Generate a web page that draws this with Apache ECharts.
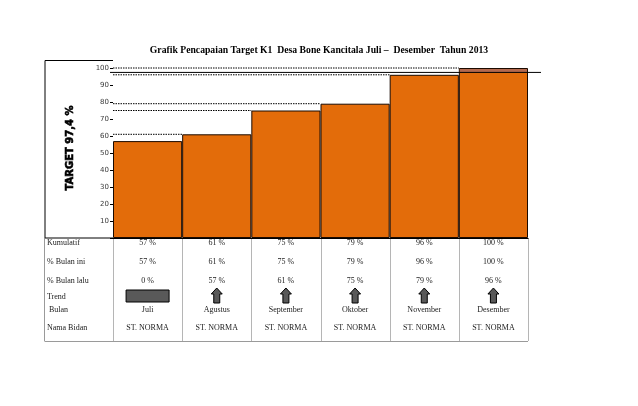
<!DOCTYPE html>
<html>
<head>
<meta charset="utf-8">
<script src="https://cdn.jsdelivr.net/npm/echarts@6/dist/echarts.min.js"></script>
<style>
  html, body { margin: 0; padding: 0; background: #fff; }
  #chart_0 { width: 638px; height: 406px; }
</style>
</head>
<body>
<div id="chart_0"></div>
<script>
// data
var bulan = ['Juli', 'Agustus', 'September', 'Oktober', 'November', 'Desember'];
var kumulatif = [57, 61, 75, 79, 96, 100];
var bulanIni = [57, 61, 75, 79, 96, 100];
var bulanLalu = [0, 57, 61, 75, 79, 96];
var trend = ['flat', 'up', 'up', 'up', 'up', 'up'];
var namaBidan = ['ST. NORMA', 'ST. NORMA', 'ST. NORMA', 'ST. NORMA', 'ST. NORMA', 'ST. NORMA'];
var rowLabels = ['Kumulatif', '% Bulan ini', '% Bulan lalu', 'Trend', ' Bulan', 'Nama Bidan'];
var target = 97.4;
var targetText = 'TARGET 97,4 %';

var chart = echarts.init(document.getElementById('chart_0'));

var serif = 'Liberation Serif';

var option = {
  animation: false,
  title: {
    text: 'Grafik Pencapaian Target K1  Desa Bone Kancitala Juli \u2013  Desember  Tahun 2013',
    left: 'center',
    top: 40,
    textStyle: { fontFamily: serif, fontSize: 9.7, fontWeight: 'bold', color: '#000' }
  },
  grid: { left: 113, right: 110, top: 68, bottom: 168, containLabel: false },
  xAxis: {
    type: 'category',
    data: bulan,
    boundaryGap: true,
    axisLine: { show: true, lineStyle: { color: '#000', width: 1 } },
    axisTick: { show: false },
    axisLabel: { show: false }
  },
  yAxis: {
    type: 'value',
    min: 0,
    max: 100,
    interval: 10,
    splitLine: { show: false },
    axisLine: { show: false },
    axisTick: { show: true, length: 3, lineStyle: { color: '#000' } },
    axisLabel: {
      margin: 4,
      fontSize: 7,
      fontFamily: 'DejaVu Sans',
      color: '#3a3a3a',
      formatter: function (v) { return v === 0 ? '' : String(v); }
    }
  },
  series: [
    {
      name: 'Kumulatif',
      type: 'bar',
      data: kumulatif,
      barCategoryGap: '0%',
      itemStyle: { color: '#E36C0A', borderColor: '#1a0a00', borderWidth: 1 },
      z: 2
    },
    {
      // dotted guide from the axis to each bar's top-left corner
      type: 'custom',
      data: kumulatif.map(function (v, i) { return [i, v]; }),
      z: 3,
      renderItem: function (params, api) {
        var p = api.coord([api.value(0), api.value(1)]);
        var w = api.size([1, 0])[0];
        var x0 = params.coordSys.x;
        return {
          type: 'line',
          shape: { x1: x0, y1: p[1], x2: p[0] - w / 2, y2: p[1] },
          style: { stroke: '#000', lineWidth: 1, lineDash: [1.5, 1] }
        };
      }
    },
    {
      // target line + shaded part of bars above target
      type: 'custom',
      data: [[0, target]],
      z: 4,
      renderItem: function (params, api) {
        var cs = params.coordSys;
        var yT = api.coord([0, api.value(1)])[1];
        var w = api.size([1, 0])[0];
        var children = [];
        kumulatif.forEach(function (v, i) {
          if (v > target) {
            var top = api.coord([i, v]);
            children.push({
              type: 'rect',
              shape: { x: top[0] - w / 2 + 1, y: top[1] + 1, width: w - 2, height: yT - top[1] - 1 },
              style: { fill: '#B4694E' }
            });
          }
        });
        children.push({
          type: 'line',
          shape: { x1: cs.x - 3, y1: yT, x2: cs.x + cs.width + 13, y2: yT },
          style: { stroke: '#000', lineWidth: 1 }
        });
        return { type: 'group', children: children };
      }
    }
  ]
};

chart.setOption(option);

// table underneath, positioned from the category axis
function buildTable() {
  var c0 = chart.convertToPixel({ xAxisIndex: 0 }, 0);
  var c1 = chart.convertToPixel({ xAxisIndex: 0 }, 1);
  var colW = c1 - c0;
  var yBase = chart.convertToPixel({ yAxisIndex: 0 }, 0);
  var gridLeft = c0 - colW / 2;
  var gridRight = gridLeft + colW * bulan.length;
  var boxLeft = 45;
  var rowY = [yBase + 5, yBase + 24, yBase + 43, yBase + 59, yBase + 72, yBase + 90];
  var tableBottom = yBase + 103;
  var g = [];

  // left box holding the target text
  g.push({
    type: 'polyline',
    shape: { points: [[gridLeft, 60.5], [boxLeft, 60.5], [boxLeft, yBase], [gridLeft, yBase]] },
    style: { stroke: '#000', fill: null, lineWidth: 1 },
    z: 10
  });
  g.push({
    type: 'text',
    x: 70, y: (60 + yBase) / 2 - 1,
    rotation: Math.PI / 2,
    style: {
      text: targetText, fontFamily: 'DejaVu Sans', fontWeight: 'bold',
      fontSize: 10, fill: '#000', align: 'center', verticalAlign: 'middle',
      stroke: '#000', lineWidth: 0.6
    },
    z: 10
  });

  // table lines
  g.push({ type: 'line', shape: { x1: boxLeft - 0.5, y1: yBase, x2: boxLeft - 0.5, y2: tableBottom }, style: { stroke: '#9a9a9a', lineWidth: 1 } });
  for (var k = 0; k <= bulan.length; k++) {
    var xx = Math.round(gridLeft + colW * k) + 0.5;
    g.push({ type: 'line', shape: { x1: xx, y1: yBase, x2: xx, y2: tableBottom }, style: { stroke: '#b5b5b5', lineWidth: 1 } });
  }
  g.push({ type: 'line', shape: { x1: boxLeft - 0.5, y1: tableBottom + 0.5, x2: gridRight, y2: tableBottom + 0.5 }, style: { stroke: '#9a9a9a', lineWidth: 1 } });

  // row labels
  rowLabels.forEach(function (t, r) {
    g.push({
      type: 'text', x: boxLeft + 2, y: rowY[r],
      style: { text: t, fontFamily: serif, fontSize: 8, fill: '#222', verticalAlign: 'middle' }
    });
  });

  // cells
  bulan.forEach(function (b, i) {
    var cx = chart.convertToPixel({ xAxisIndex: 0 }, i);
    var cells = [
      [kumulatif[i] + ' %', rowY[0]],
      [bulanIni[i] + ' %', rowY[1]],
      [bulanLalu[i] + ' %', rowY[2]],
      [b, rowY[4]],
      [namaBidan[i], rowY[5]]
    ];
    cells.forEach(function (c) {
      g.push({
        type: 'text', x: cx, y: c[1],
        style: { text: c[0], fontFamily: serif, fontSize: 8, fill: '#222', align: 'center', verticalAlign: 'middle' }
      });
    });
    var ty = rowY[3] - 1;
    if (trend[i] === 'flat') {
      g.push({
        type: 'rect',
        shape: { x: cx - 21.5, y: ty - 6, width: 43, height: 12 },
        style: { fill: '#595959', stroke: '#000', lineWidth: 1 }
      });
    } else {
      g.push({
        type: 'polygon',
        shape: { points: [[cx, ty - 8], [cx + 5.5, ty - 2], [cx + 3, ty - 2], [cx + 3, ty + 7], [cx - 3, ty + 7], [cx - 3, ty - 2], [cx - 5.5, ty - 2]] },
        style: { fill: '#595959', stroke: '#000', lineWidth: 1 }
      });
    }
  });

  chart.setOption({ graphic: { elements: g } });
}
buildTable();
</script>
</body>
</html>
